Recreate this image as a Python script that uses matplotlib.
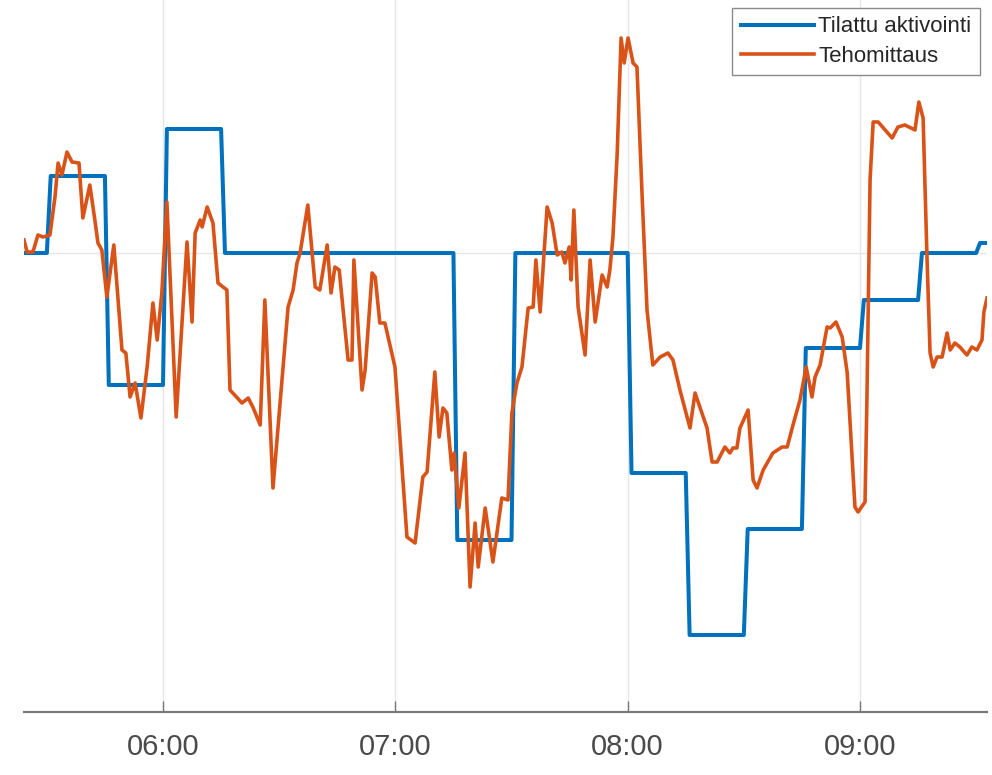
import numpy as np
import pandas as pd
import matplotlib
matplotlib.use("Agg")
import matplotlib.pyplot as plt
import matplotlib.dates as mdates

# time axis: minutes after 05:00
day0 = pd.Timestamp("2020-01-01 05:00")

# ordered activation (step changes every 15 min)
order_min = [24, 30, 45, 60, 75, 135, 150, 180, 195, 210, 225, 240, 255, 270]
order_lvl = [0.00, 0.77, -1.32, 1.24, 0.00, -2.87, 0.00, -2.20, -3.82, -2.76, -0.95, -0.47, 0.00, 0.10]
order_end = 272.8

# measured power
meas_min = [24.1, 24.9, 26.4, 27.7, 29.0, 30.8, 32.1, 32.9, 33.9, 35.2,
            36.5, 38.3, 39.3, 41.1, 42.4, 43.2, 44.2, 45.5, 47.3, 49.4,
            50.4, 51.5, 52.8, 54.3, 55.9, 57.4, 58.5, 59.7, 61.0, 63.4,
            66.2, 67.5, 68.3, 69.6, 70.1, 71.4, 72.9, 74.2, 76.5, 77.3,
            80.4, 82.0, 83.2, 85.1, 86.3, 88.4, 92.3, 93.6, 94.6, 95.4,
            97.4, 99.3, 100.5, 102.4, 103.4, 104.4, 105.5, 107.8, 108.8, 109.3,
            111.4, 112.2, 114.0, 114.8, 116.0, 117.3, 119.9, 123.0, 125.1, 127.1,
            128.2, 130.2, 131.3, 132.3, 133.3, 134.6, 135.2, 136.4, 138.0, 139.3,
            140.6, 141.4, 143.2, 145.2, 147.5, 149.1, 150.1, 151.4, 152.7, 154.3,
            155.6, 156.3, 157.4, 159.2, 160.5, 161.8, 163.0, 163.8, 164.9, 165.4,
            166.1, 167.2, 169.0, 170.3, 171.6, 173.4, 174.7, 175.4, 176.2, 177.3,
            178.3, 179.1, 180.1, 181.4, 182.4, 183.7, 185.0, 186.5, 188.4, 190.4,
            191.7, 193.5, 196.1, 197.4, 200.5, 201.8, 203.1, 205.1, 206.4, 207.2,
            208.2, 209.0, 211.1, 212.4, 213.4, 215.0, 217.5, 219.9, 221.2, 222.7,
            224.5, 226.1, 227.6, 228.4, 229.7, 231.5, 232.3, 233.8, 235.4, 236.7,
            238.7, 239.5, 241.3, 241.8, 242.6, 243.4, 244.7, 246.5, 248.3, 249.8,
            251.6, 254.2, 255.2, 256.3, 257.3, 258.1, 258.9, 259.9, 261.2, 262.5,
            263.3, 264.5, 265.8, 267.6, 268.9, 270.2, 271.5, 272.0, 272.8]
meas_val = [0.13, 0.01, 0.01, 0.18, 0.16, 0.18, 0.56, 0.90, 0.78, 1.01,
            0.91, 0.90, 0.35, 0.68, 0.33, 0.10, 0.03, -0.44, 0.08, -0.97,
            -1.00, -1.44, -1.30, -1.65, -1.14, -0.50, -0.87, -0.40, 0.51, -1.64,
            0.11, -0.69, 0.20, 0.33, 0.26, 0.46, 0.30, -0.30, -0.37, -1.37,
            -1.50, -1.45, -1.54, -1.72, -0.47, -2.35, -0.54, -0.37, -0.10, 0.00,
            0.48, -0.34, -0.37, 0.08, -0.40, -0.14, -0.17, -1.07, -1.07, -0.07,
            -1.37, -1.17, -0.20, -0.24, -0.70, -0.70, -1.14, -2.84, -2.90, -2.24,
            -2.19, -1.19, -1.84, -1.55, -1.60, -2.17, -2.00, -2.55, -2.00, -3.34,
            -2.70, -3.14, -2.55, -3.09, -2.45, -2.47, -1.60, -1.30, -1.14, -0.55,
            -0.54, -0.07, -0.59, 0.46, 0.30, -0.02, 0.01, -0.10, 0.06, -0.27,
            0.43, -0.54, -1.02, -0.07, -0.69, -0.22, -0.34, -0.17, 0.16, 1.00,
            2.15, 1.90, 2.15, 1.90, 1.86, 0.60, -0.57, -1.12, -1.04, -1.00,
            -1.07, -1.37, -1.75, -1.40, -1.75, -2.09, -2.09, -1.94, -2.00, -1.95,
            -1.95, -1.75, -1.57, -2.27, -2.35, -2.17, -2.00, -1.94, -1.94, -1.72,
            -1.47, -1.14, -1.44, -1.24, -1.12, -0.74, -0.75, -0.69, -0.84, -1.20,
            -2.54, -2.59, -2.49, -1.44, 0.73, 1.31, 1.31, 1.23, 1.15, 1.26,
            1.28, 1.23, 1.51, 1.35, -0.04, -1.00, -1.14, -1.04, -1.04, -0.80,
            -0.97, -0.90, -0.94, -1.02, -0.94, -0.97, -0.87, -0.59, -0.45]

labels = ["Tilattu aktivointi", "Tehomittaus"]

# step line: each change takes one minute
bx = [order_min[0]]
by = [order_lvl[0]]
for i in range(1, len(order_min)):
    bx += [order_min[i], order_min[i] + 1]
    by += [order_lvl[i - 1], order_lvl[i]]
bx.append(order_end)
by.append(order_lvl[-1])

to_time = lambda m: day0 + pd.to_timedelta(np.asarray(m, dtype=float), unit="min")

plt.rcParams['font.family'] = ['Liberation Sans', 'DejaVu Sans']

fig = plt.figure(figsize=(9.92, 7.75), dpi=100)
ax = fig.add_axes([24 / 992, 63 / 775, 963 / 992, 714 / 775])

ax.plot(to_time(bx), by, color='#0072BD', lw=2.9, label=labels[0])
ax.plot(to_time(meas_min), meas_val, color='#D95319', lw=2.6, label=labels[1])

ax.set_xlim(to_time([24.1, 272.8]))
ax.set_ylim(-4.59, 2.55)
ax.set_yticks([0])
ax.tick_params(axis='y', length=0, labelleft=False)

ax.xaxis.set_major_locator(mdates.HourLocator())
ax.xaxis.set_major_formatter(mdates.DateFormatter('%H:%M'))
ax.tick_params(axis='x', direction='in', length=8, width=1, color='#777777',
               labelsize=21, labelcolor='#4a4a4a', pad=15)

ax.grid(True, color='#e6e6e6', lw=1)
ax.set_axisbelow(True)
for s in ['top', 'right', 'left']:
    ax.spines[s].set_visible(False)
ax.spines['bottom'].set_color('#7a7a7a')
ax.spines['bottom'].set_linewidth(1.6)

leg = ax.legend(loc='upper right', bbox_to_anchor=(980 / 992, 1 - 8 / 775),
                bbox_transform=fig.transFigure, borderaxespad=0,
                fontsize=16, handlelength=3.3, handletextpad=0.2,
                labelspacing=0.38, borderpad=0.38, fancybox=False,
                framealpha=1, edgecolor='#8a8a8a')
leg.get_frame().set_linewidth(1.0)
for t in leg.get_texts():
    t.set_color('#262626')

fig.savefig("out.png", dpi=100)
